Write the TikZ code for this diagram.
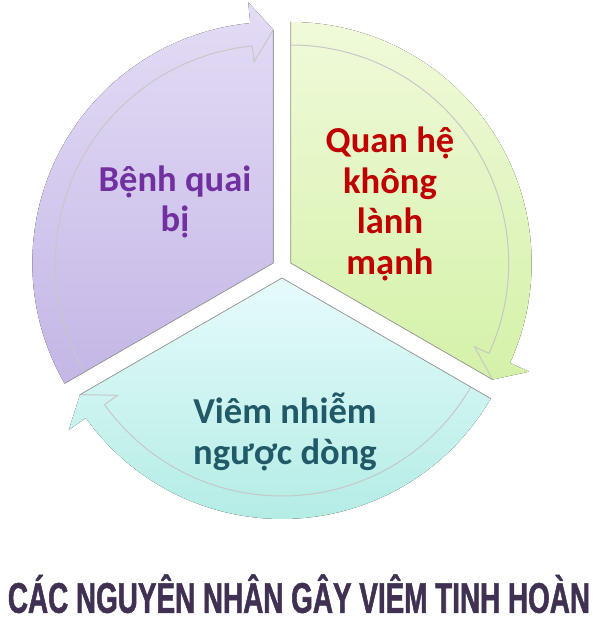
\documentclass[tikz,border=0pt]{standalone}
\usepackage{fontspec}
\setmainfont{Carlito}
\newfontfamily\titlefont[FakeStretch=0.65, BoldFeatures={FakeBold=1.2}]{Liberation Sans}
\definecolor{lavender}{RGB}{228,220,245}
\definecolor{lavenderdark}{RGB}{196,182,230}
\definecolor{lime}{RGB}{240,250,218}
\definecolor{limedark}{RGB}{212,241,168}
\definecolor{aqua}{RGB}{230,251,251}
\definecolor{aquadark}{RGB}{178,236,228}
\definecolor{textpurple}{RGB}{112,48,160}
\definecolor{textred}{RGB}{192,0,0}
\definecolor{textteal}{RGB}{33,89,104}
\definecolor{titlepurple}{RGB}{64,49,82}

\begin{document}
\begin{tikzpicture}[
  segedge/.style={draw=black!40, line width=0.5pt},
  innerline/.style={draw=black!22, line width=0.7pt},
  segtext/.style={font=\bfseries\fontsize{26}{29}\selectfont, align=center}
]
\useasboundingbox (-7.05,-8.775) rectangle (7.95,6.7);

% Bệnh quai bị
\begin{scope}[shift={(150:0.25)}]
\fill[top color=lavender, bottom color=lavenderdark] (0,0) -- (90:5.83) -- (95.5:6.55) -- (95.5:6.025) arc[start angle=95.5, end angle=210, radius=6.025] -- cycle;
\draw[innerline] (210:5.45) arc[start angle=210, end angle=95.5, radius=5.45] -- (95.5:5.05) -- (90:5.83);
\draw[segedge] (210:6.025) -- (0,0) -- (90:5.83);
\end{scope}

% Quan hệ không lành mạnh
\begin{scope}[shift={(30:0.25)}]
\fill[top color=lime, bottom color=limedark] (0,0) -- (-30:5.83) -- (-24.5:6.55) -- (-24.5:6.025) arc[start angle=-24.5, end angle=90, radius=6.025] -- cycle;
\draw[innerline] (90:5.45) arc[start angle=90, end angle=-24.5, radius=5.45] -- (-24.5:5.05) -- (-30:5.83);
\draw[segedge] (90:6.025) -- (0,0) -- (-30:5.83);
\end{scope}

% Viêm nhiễm ngược dòng
\begin{scope}[shift={(270:0.25)}]
\fill[top color=aqua, bottom color=aquadark] (0,0) -- (210:5.83) -- (215.5:6.55) -- (215.5:6.025) arc[start angle=215.5, end angle=330, radius=6.025] -- cycle;
\draw[innerline] (330:5.45) arc[start angle=330, end angle=215.5, radius=5.45] -- (215.5:5.05) -- (210:5.83);
\draw[segedge] (330:6.025) -- (0,0) -- (210:5.83);
\end{scope}

\node[segtext, text=textpurple] (quaibi) at (-2.675,1.65) {Bệnh quai\\bị};
\node[segtext, text=textred] (quanhe) at (2.7,1.6) {Quan hệ\\không\\lành\\mạnh};
\node[segtext, text=textteal] (viemnhiem) at (0.075,-4.1) {Viêm nhiễm\\ngược dòng};

\node[anchor=base, inner sep=0pt, text=titlepurple] (tieude) at (0.425,-8.62) {\titlefont\bfseries\fontsize{30.5}{32}\selectfont CÁC NGUYÊN NHÂN GÂY VIÊM TINH HOÀN};
\end{tikzpicture}
\end{document}
